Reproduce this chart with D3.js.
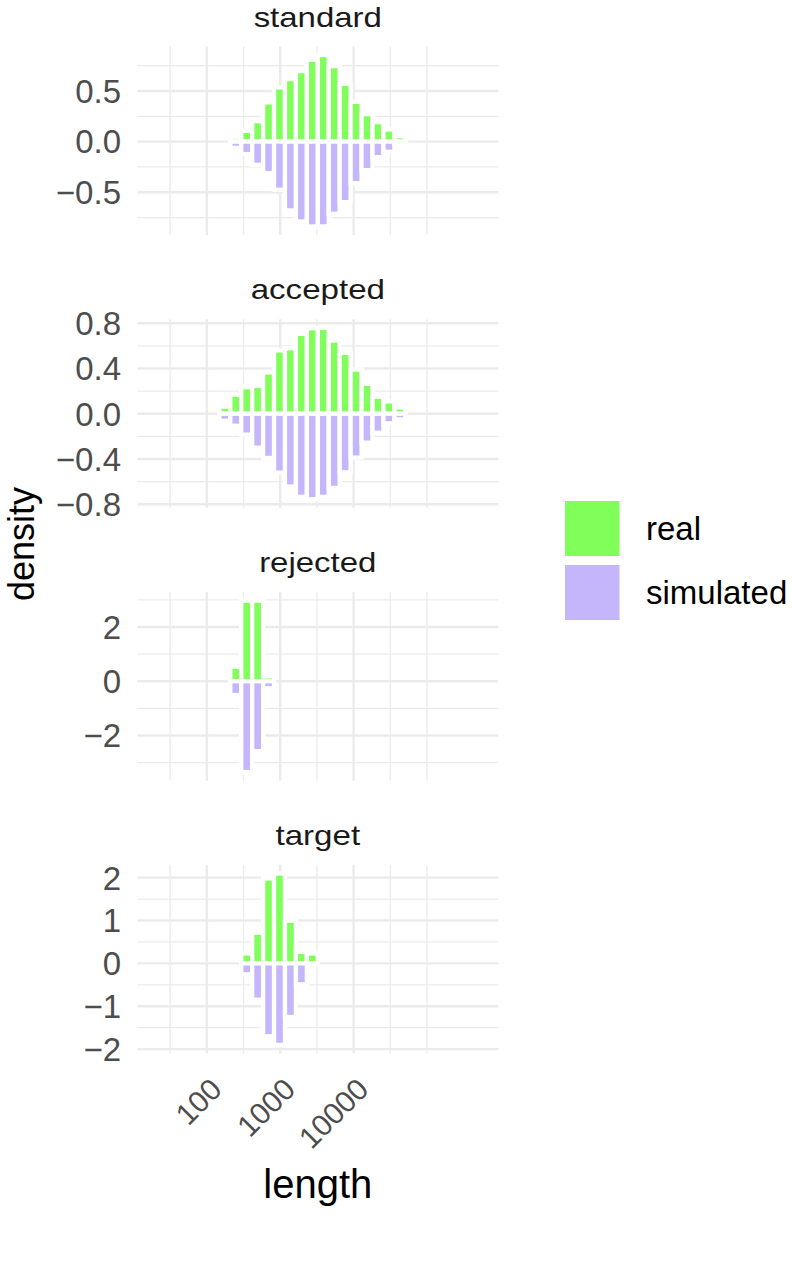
<!DOCTYPE html>
<html><head><meta charset="utf-8">
<script src="https://cdn.jsdelivr.net/npm/d3@7"></script>
<style>body{margin:0;background:#fff}</style>
</head><body>
<svg id="chart" width="792" height="1263" xmlns="http://www.w3.org/2000/svg"></svg>
<script>
// ---------- data ----------
const panelNames = ["standard", "accepted", "rejected", "target"];
// histogram bin edges, log10(length)
const logBinEdges = [1.2756, 1.4247, 1.5738, 1.7229, 1.8720, 2.0211, 2.1702, 2.3193, 2.4684, 2.6175,
  2.7666, 2.9157, 3.0648, 3.2139, 3.3630, 3.5121, 3.6612, 3.8103, 3.9594, 4.1085,
  4.2576, 4.4067, 4.5558, 4.7049, 4.8540, 5.0031, 5.1522, 5.3013, 5.4504, 5.5995, 5.7486];
// density per bin (30 bins)
const standardReal = [0,0,0,0,0,0,0, 0.048,0.107,0.202,0.387,0.535,0.617,0.696,0.808,0.854,0.745,0.571,0.393,0.271,0.192,0.120,0.054, 0,0,0,0,0,0,0];
const standardSimulated = [0,0,0,0,0,0,0, 0.061,0.123,0.229,0.311,0.475,0.679,0.788,0.837,0.837,0.712,0.597,0.410,0.281,0.153,0.100,0.020, 0,0,0,0,0,0,0];
const acceptedReal = [0,0,0,0,0,0, 0.062,0.168,0.235,0.247,0.365,0.559,0.579,0.706,0.756,0.759,0.647,0.538,0.391,0.265,0.150,0.109,0.056, 0,0,0,0,0,0,0];
const acceptedSimulated = [0,0,0,0,0,0, 0.062,0.106,0.185,0.300,0.391,0.521,0.644,0.735,0.756,0.735,0.656,0.518,0.388,0.256,0.168,0.085,0.050, 0,0,0,0,0,0,0];
const rejectedReal = [0,0,0,0,0,0,0, 0.535,2.97,2.97,0.18, 0,0,0,0,0,0,0,0,0,0,0,0,0,0,0,0,0,0,0];
const rejectedSimulated = [0,0,0,0,0,0,0, 0.51,3.35,2.58,0.26, 0,0,0,0,0,0,0,0,0,0,0,0,0,0,0,0,0,0,0];
const targetReal = [0,0,0,0,0,0,0,0, 0.233,0.715,1.98,2.097,0.994,0.272,0.233, 0,0,0,0,0,0,0,0,0,0,0,0,0,0,0];
const targetSimulated = [0,0,0,0,0,0,0,0, 0.256,0.847,1.70,1.90,1.25,0.489,0, 0,0,0,0,0,0,0,0,0,0,0,0,0,0,0];

// axis ticks
const xTickValues = [100, 1000, 10000];
const xTickLabels = ["100", "1000", "10000"];
const xMinorValues = [31.62, 316.2, 3162, 31620, 100000];
const standardTicks = [-0.5, 0, 0.5];
const standardTickLabels = ["\u22120.5", "0.0", "0.5"];
const standardMinor = [-0.75, -0.25, 0.25, 0.75];
const acceptedTicks = [-0.8, -0.4, 0, 0.4, 0.8];
const acceptedTickLabels = ["\u22120.8", "\u22120.4", "0.0", "0.4", "0.8"];
const acceptedMinor = [-0.6, -0.2, 0.2, 0.6];
const rejectedTicks = [-2, 0, 2];
const rejectedTickLabels = ["\u22122", "0", "2"];
const rejectedMinor = [-3, -1, 1, 3];
const targetTicks = [-2, -1, 0, 1, 2];
const targetTickLabels = ["\u22122", "\u22121", "0", "1", "2"];
const targetMinor = [-1.5, -0.5, 0.5, 1.5];

const seriesNames = ["real", "simulated"];
const seriesColors = ["#80FF5A", "#C5B5FB"];
const xTitle = "length", yTitle = "density";

// ---------- layout ----------
const svg = d3.select("#chart");
const FONT = "'Liberation Sans', Arial, Helvetica, sans-serif";
const panelLeft = 137.3, panelRight = 498.3;
const panelTop0 = 46.5, panelStep = 272.8, panelH = 188.5;
const gridColor = "#EBEBEB";
const majorW = 2.4, minorW = 1.3;
const barStroke = 4.3;

const panels = [
  {name: panelNames[0], real: standardReal, sim: standardSimulated, ticks: standardTicks, labels: standardTickLabels, minor: standardMinor, tw: 128.3},
  {name: panelNames[1], real: acceptedReal, sim: acceptedSimulated, ticks: acceptedTicks, labels: acceptedTickLabels, minor: acceptedMinor, tw: 134.3},
  {name: panelNames[2], real: rejectedReal, sim: rejectedSimulated, ticks: rejectedTicks, labels: rejectedTickLabels, minor: rejectedMinor, tw: 117.3},
  {name: panelNames[3], real: targetReal, sim: targetSimulated, ticks: targetTicks, labels: targetTickLabels, minor: targetMinor, tw: 84.7}
];

const lo = logBinEdges[0], hi = logBinEdges[logBinEdges.length - 1];
const xpad = (hi - lo) * 0.05;
const x = d3.scaleLinear().domain([lo - xpad, hi + xpad]).range([panelLeft, panelRight]);
const xl = v => x(Math.log10(v));

panels.forEach((p, j) => {
  const top = panelTop0 + panelStep * j, bottom = top + panelH;
  const ymax = d3.max(p.real), ymin = -d3.max(p.sim);
  const ypad = (ymax - ymin) * 0.05;
  const y = d3.scaleLinear().domain([ymin - ypad, ymax + ypad]).range([bottom, top]);
  const g = svg.append("g");

  // minor grid
  g.selectAll(".hmin").data(p.minor).join("line")
    .attr("x1", panelLeft).attr("x2", panelRight).attr("y1", d => y(d)).attr("y2", d => y(d))
    .attr("stroke", gridColor).attr("stroke-width", minorW);
  g.selectAll(".vmin").data(xMinorValues).join("line")
    .attr("x1", d => xl(d)).attr("x2", d => xl(d)).attr("y1", top).attr("y2", bottom)
    .attr("stroke", gridColor).attr("stroke-width", minorW);
  // major grid
  g.selectAll(".hmaj").data(p.ticks).join("line")
    .attr("x1", panelLeft).attr("x2", panelRight).attr("y1", d => y(d)).attr("y2", d => y(d))
    .attr("stroke", gridColor).attr("stroke-width", majorW);
  g.selectAll(".vmaj").data(xTickValues).join("line")
    .attr("x1", d => xl(d)).attr("x2", d => xl(d)).attr("y1", top).attr("y2", bottom)
    .attr("stroke", gridColor).attr("stroke-width", majorW);

  // bars
  const bins = d3.range(logBinEdges.length - 1);
  g.selectAll(".real").data(bins).join("rect")
    .attr("x", k => x(logBinEdges[k])).attr("width", k => x(logBinEdges[k + 1]) - x(logBinEdges[k]))
    .attr("y", k => y(p.real[k])).attr("height", k => y(0) - y(p.real[k]))
    .attr("fill", seriesColors[0]).attr("stroke", "#fff").attr("stroke-width", barStroke);
  g.selectAll(".sim").data(bins).join("rect")
    .attr("x", k => x(logBinEdges[k])).attr("width", k => x(logBinEdges[k + 1]) - x(logBinEdges[k]))
    .attr("y", y(0)).attr("height", k => y(-p.sim[k]) - y(0))
    .attr("fill", seriesColors[1]).attr("stroke", "#fff").attr("stroke-width", barStroke);

  // y tick labels
  g.selectAll(".yt").data(p.ticks).join("text")
    .attr("x", 121).attr("y", d => y(d)).attr("dy", "0.36em")
    .attr("text-anchor", "end").attr("font-family", FONT).attr("font-size", 33)
    .attr("fill", "#4D4D4D").text((d, i) => p.labels[i]);

  // strip title
  g.append("text").attr("x", (panelLeft + panelRight) / 2).attr("y", top - 20)
    .attr("text-anchor", "middle").attr("font-family", FONT).attr("font-size", 28)
    .attr("fill", "#1A1A1A").attr("textLength", p.tw).attr("lengthAdjust", "spacingAndGlyphs")
    .text(p.name);
});

// x tick labels (rotated 45)
svg.selectAll(".xt").data(xTickValues).join("text")
  .attr("transform", d => `translate(${xl(d) + 1.5},1076) rotate(-45)`)
  .attr("dy", "0.72em").attr("text-anchor", "end")
  .attr("font-family", FONT).attr("font-size", 30).attr("fill", "#4D4D4D")
  .text((d, i) => xTickLabels[i]);

// axis titles
svg.append("text").attr("x", (panelLeft + panelRight) / 2).attr("y", 1198)
  .attr("text-anchor", "middle").attr("font-family", FONT).attr("font-size", 40).attr("fill", "#000")
  .text(xTitle);
svg.append("text").attr("transform", "translate(34,544) rotate(-90)")
  .attr("text-anchor", "middle").attr("font-family", FONT).attr("font-size", 36).attr("fill", "#000")
  .text(yTitle);

// legend
const legY = [501, 565];
const lg = svg.append("g");
lg.selectAll("rect").data(seriesNames).join("rect")
  .attr("x", 565).attr("y", (d, i) => legY[i]).attr("width", 54.5).attr("height", 55)
  .attr("fill", (d, i) => seriesColors[i]);
lg.selectAll("text").data(seriesNames).join("text")
  .attr("x", 646).attr("y", (d, i) => legY[i] + 27.5).attr("dy", "0.36em")
  .attr("font-family", FONT).attr("font-size", 33).attr("fill", "#000")
  .text(d => d);
</script>
</body></html>
